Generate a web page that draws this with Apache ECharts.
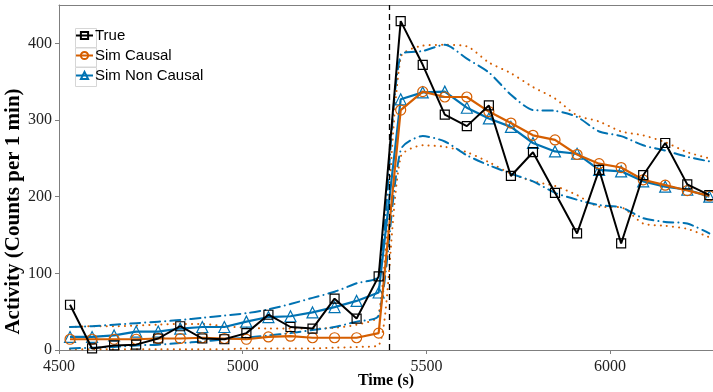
<!DOCTYPE html>
<html>
<head>
<meta charset="utf-8">
<script src="https://cdn.jsdelivr.net/npm/echarts@6/dist/echarts.min.js"></script>
<style>
  html, body { margin: 0; padding: 0; background: #fff; }
  #chart { width: 713px; height: 392px; }
</style>
</head>
<body>
<div id="chart"></div>
<script>
// Time stamps (s), one sample per minute
const times = [4530, 4590, 4650, 4710, 4770, 4830, 4890, 4950, 5010, 5070,
               5130, 5190, 5250, 5310, 5370, 5430, 5490, 5550, 5610, 5670,
               5730, 5790, 5850, 5910, 5970, 6030, 6090, 6150, 6210, 6270];

// Observed activity
const trueVals = [59, 2, 6, 7, 15, 31, 15, 14, 22, 46, 30, 28, 67, 41, 96,
                  429, 372, 307, 292, 319, 227, 258, 205, 152, 235, 139, 228, 270, 216, 202];

// Simulated mean, causal model
const causalVals = [14, 14, 14, 14, 15, 15, 16, 15, 14, 17, 18, 16, 16, 16, 22,
                    313, 337, 330, 330, 311, 296, 280, 274, 255, 243, 238, 222, 215, 208, 201];
const causalUpper = [30, 31, 31, 32, 33, 34, 34, 31, 29, 28, 28, 28, 29, 33, 45,
                     382, 397, 398, 396, 375, 361, 343, 328, 306, 298, 285, 280, 271, 258, 250];
const causalLower = [1, 1, 1, 1, 1, 1, 1, 1, 2, 2, 2, 2, 3, 4, 6,
                     252, 267, 265, 258, 245, 230, 220, 214, 202, 187, 186, 165, 162, 158, 147];

// Simulated mean, non-causal model
const nonCausalVals = [17, 17, 19, 24, 24, 28, 30, 30, 37, 43, 44, 49, 56, 64, 75,
                       327, 336, 337, 316, 302, 291, 270, 259, 256, 235, 233, 220, 213, 209, 200];
const nonCausalUpper = [30, 31, 33, 35, 37, 39, 42, 45, 48, 53, 60, 68, 76, 87, 97,
                        385, 390, 398, 380, 362, 333, 313, 312, 304, 285, 279, 267, 260, 252, 246];
const nonCausalLower = [2, 3, 4, 6, 7, 9, 11, 14, 16, 19, 22, 26, 30, 37, 45,
                        261, 279, 272, 254, 241, 230, 220, 205, 196, 189, 186, 172, 167, 165, 152];

// Intervention time and axis ticks
const interventionTime = 5400;
const xTicks = [4500, 5000, 5500, 6000];
const yTicks = [0, 100, 200, 300, 400];

const ORANGE = '#D55E00';
const BLUE = '#0072B2';
const AXIS_GRAY = '#7f7f7f';
const SERIF = '"Liberation Serif", "DejaVu Serif", serif';
const SANS = '"Liberation Sans", Arial, sans-serif';

const pairs = vals => times.map((t, i) => [t, vals[i]]);

function bandSeries(name, vals, color, dash) {
  return {
    name: name,
    type: 'line',
    data: pairs(vals),
    showSymbol: false,
    symbol: 'none',
    smooth: 0.25,
    lineStyle: { color: color, width: 2, type: dash, cap: 'round' },
    z: 2
  };
}

const chart = echarts.init(document.getElementById('chart'), null, { renderer: 'canvas' });

chart.setOption({
  animation: false,
  backgroundColor: '#fff',
  grid: { left: 59, right: 0, top: 5, bottom: 42, containLabel: false, outerBoundsMode: 'none' },
  legend: {
    data: ['True', 'Sim Causal', 'Sim Non Causal'],
    orient: 'vertical',
    left: 75,
    top: 28,
    itemWidth: 17,
    itemHeight: 9,
    itemGap: 5,
    textStyle: { fontFamily: SANS, fontSize: 15, lineHeight: 15, color: '#000', padding: [0, 0, 0, -3] },
    padding: 0
  },
  graphic: [0, 1, 2].map(i => ({
    type: 'rect',
    left: 73,
    top: 26 + i * 19.5,
    shape: { width: 21, height: 19 },
    style: { fill: 'none', stroke: '#d6d6d6', lineWidth: 1 },
    z: 0
  })),
  xAxis: [{
    type: 'value',
    min: 4500,
    max: 6280,
    name: 'Time (s)',
    nameLocation: 'middle',
    nameGap: 23,
    nameMoveOverlap: false,
    nameTextStyle: { fontFamily: SERIF, fontSize: 16, fontWeight: 'bold', color: '#000' },
    splitLine: { show: false },
    axisLine: { lineStyle: { color: AXIS_GRAY, width: 1 } },
    axisTick: { customValues: xTicks, length: 4, lineStyle: { color: AXIS_GRAY } },
    axisLabel: {
      customValues: xTicks, fontFamily: SERIF, fontSize: 16, color: '#222', margin: 9,
      formatter: v => String(v)
    }
  }, {
    type: 'value',
    position: 'top',
    min: 4500,
    max: 6280,
    splitLine: { show: false },
    axisLine: { show: true, lineStyle: { color: AXIS_GRAY, width: 1 } },
    axisTick: { show: false },
    axisLabel: { show: false }
  }],
  yAxis: {
    type: 'value',
    min: 0,
    max: 450,
    name: 'Activity (Counts per 1 min)',
    nameLocation: 'middle',
    nameGap: 35,
    nameMoveOverlap: false,
    nameTextStyle: {
      fontFamily: SERIF, fontSize: 21, fontWeight: 'bold', color: '#000',
      padding: [0, 68, 0, 0]
    },
    splitLine: { show: false },
    axisLine: { show: true, lineStyle: { color: AXIS_GRAY, width: 1 } },
    axisTick: { show: true, customValues: yTicks, length: 4, lineStyle: { color: AXIS_GRAY } },
    axisLabel: {
      customValues: yTicks, fontFamily: SERIF, fontSize: 16, color: '#222', margin: 7,
      formatter: v => String(v)
    }
  },
  series: [
    bandSeries('Sim Causal upper', causalUpper, ORANGE, [0.1, 6]),
    bandSeries('Sim Causal lower', causalLower, ORANGE, [0.1, 6]),
    bandSeries('Sim Non Causal upper', nonCausalUpper, BLUE, [10, 5, 0.1, 5]),
    bandSeries('Sim Non Causal lower', nonCausalLower, BLUE, [10, 5, 0.1, 5]),
    {
      name: 'Sim Non Causal',
      type: 'line',
      data: pairs(nonCausalVals),
      symbol: 'triangle',
      symbolSize: 11,
      lineStyle: { color: BLUE, width: 2.2 },
      itemStyle: { color: 'rgba(0,0,0,0)', borderColor: BLUE, borderWidth: 1.2 },
      z: 3
    },
    {
      name: 'Sim Causal',
      type: 'line',
      data: pairs(causalVals),
      symbol: 'circle',
      symbolSize: 10,
      lineStyle: { color: ORANGE, width: 2.2 },
      itemStyle: { color: 'rgba(0,0,0,0)', borderColor: ORANGE, borderWidth: 1.2 },
      z: 4
    },
    {
      name: 'True',
      type: 'line',
      data: pairs(trueVals),
      symbol: 'rect',
      symbolSize: 9,
      lineStyle: { color: '#000', width: 2 },
      itemStyle: { color: 'rgba(0,0,0,0)', borderColor: '#000', borderWidth: 1.2 },
      z: 5,
      markLine: {
        silent: true,
        symbol: 'none',
        label: { show: false },
        lineStyle: { color: '#000', type: [6, 4], width: 1.3 },
        data: [{ xAxis: interventionTime }]
      }
    }
  ]
});
</script>
</body>
</html>
